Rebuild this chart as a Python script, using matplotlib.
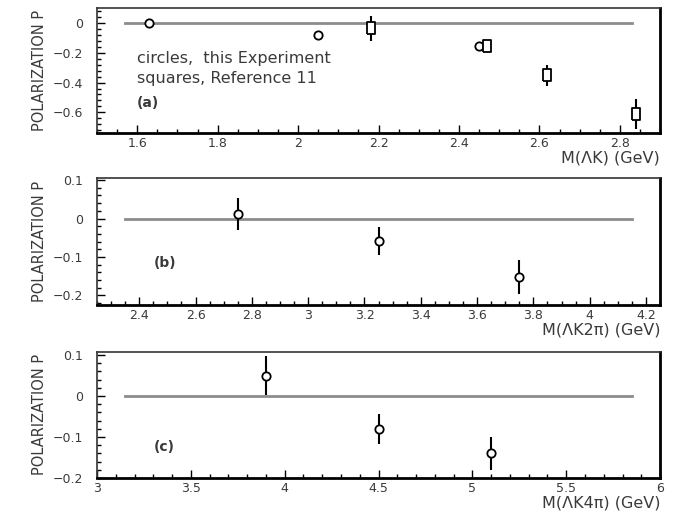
import matplotlib
matplotlib.use("Agg")
import matplotlib.pyplot as plt
from matplotlib.ticker import MultipleLocator
from matplotlib.transforms import offset_copy

plt.rcParams["font.family"] = ["DejaVu Sans"]

# ---- panel (a): M(Lambda K) ----
a_circ_x = [1.63, 2.05, 2.45]
a_circ_y = [0.0, -0.08, -0.155]
a_circ_err = [0.02, 0.01, 0.02]
a_sq_x = [2.18, 2.47, 2.62, 2.84]
a_sq_y = [-0.035, -0.155, -0.35, -0.61]
a_sq_err = [0.085, 0.02, 0.07, 0.10]
a_zero_span = [1.57, 2.83]

# ---- panel (b): M(Lambda K 2pi) ----
b_x = [2.75, 3.25, 3.75]
b_y = [0.012, -0.058, -0.152]
b_err = [0.042, 0.037, 0.043]
b_zero_span = [2.35, 4.15]

# ---- panel (c): M(Lambda K 4pi) ----
c_x = [3.9, 4.5, 5.1]
c_y = [0.05, -0.08, -0.14]
c_err = [0.048, 0.037, 0.04]
c_zero_span = [3.15, 5.85]

a_yticks = [0, -0.2, -0.4, -0.6]
a_xticks = [1.6, 1.8, 2.0, 2.2, 2.4, 2.6, 2.8]
b_yticks = [0.1, 0, -0.1, -0.2]
b_xticks = [2.4, 2.6, 2.8, 3.0, 3.2, 3.4, 3.6, 3.8, 4.0, 4.2]
c_yticks = [0.1, 0, -0.1, -0.2]
c_xticks = [3, 3.5, 4, 4.5, 5, 5.5, 6]

TXT = "#3a3a3a"

fig = plt.figure(figsize=(6.76, 5.18), dpi=100)
left, width = 0.1435, 0.833
ax_a = fig.add_axes([left, 0.743, width, 0.241])
ax_b = fig.add_axes([left, 0.411, width, 0.245])
ax_c = fig.add_axes([left, 0.077, width, 0.244])

# narrow upright box used for the reference-11 points
tall_box = [(-0.6, -1), (0.6, -1), (0.6, 1), (-0.6, 1), (-0.6, -1)]


def fmt(v):
    s = f"{v:g}"
    return s.replace("-", "\u2212")


def style(ax, xlim, ylim, xticks, yticks, xminor, yminor, xlabel):
    ax.set_xlim(*xlim)
    ax.set_ylim(*ylim)
    ax.set_xticks(xticks)
    ax.set_xticklabels([fmt(v) for v in xticks])
    ax.set_yticks(yticks)
    ax.set_yticklabels([fmt(v) for v in yticks])
    ax.xaxis.set_minor_locator(MultipleLocator(xminor))
    ax.yaxis.set_minor_locator(MultipleLocator(yminor))
    ax.tick_params(which="both", direction="in", top=False, right=False,
                   colors="black", labelcolor=TXT, labelsize=9, width=1.0)
    ax.tick_params(which="major", length=6)
    ax.tick_params(which="minor", length=3)
    ax.tick_params(axis="y", pad=10)
    ax.tick_params(axis="x", pad=3)
    for side in ("top", "left"):
        ax.spines[side].set_linewidth(1.2)
        ax.spines[side].set_color("#333333")
    for side in ("right", "bottom"):
        ax.spines[side].set_linewidth(2.0)
        ax.spines[side].set_color("black")
    ax.set_ylabel("POLARIZATION P", color=TXT, fontsize=10.5, labelpad=4)
    trans = offset_copy(ax.transAxes, fig=fig, x=0, y=-25, units="dots")
    ax.text(1.0, 0.0, xlabel, transform=trans, ha="right", va="center",
            fontsize=11.5, color=TXT)


zero_kw = dict(color="#8c8c8c", lw=2.0, zorder=1)
err_kw = dict(ecolor="black", elinewidth=1.5, capsize=0, ls="none",
              markerfacecolor="white", markeredgecolor="black",
              markeredgewidth=1.3, zorder=3)

# panel (a)
ax_a.plot(a_zero_span, [0, 0], **zero_kw)
ax_a.errorbar(a_circ_x, a_circ_y, yerr=a_circ_err, fmt="o", ms=6, **err_kw)
ax_a.errorbar(a_sq_x, a_sq_y, yerr=a_sq_err, marker=tall_box, ms=9, **err_kw)
style(ax_a, (1.5, 2.9), (-0.74, 0.1), a_xticks, a_yticks, 0.05, 0.04,
      "M(\u039bK) (GeV)")
ax_a.text(0.071, 0.60, "circles,  this Experiment", transform=ax_a.transAxes,
          fontsize=11.5, color=TXT, va="center")
ax_a.text(0.071, 0.44, "squares, Reference 11", transform=ax_a.transAxes,
          fontsize=11.5, color=TXT, va="center")
ax_a.text(0.071, 0.24, "(a)", transform=ax_a.transAxes, fontsize=10,
          fontweight="bold", color=TXT, va="center")

# panel (b)
ax_b.plot(b_zero_span, [0, 0], **zero_kw)
ax_b.errorbar(b_x, b_y, yerr=b_err, fmt="o", ms=6, **err_kw)
style(ax_b, (2.25, 4.25), (-0.225, 0.105), b_xticks, b_yticks, 0.05, 0.02,
      "M(\u039bK2\u03c0) (GeV)")
ax_b.text(0.10, 0.33, "(b)", transform=ax_b.transAxes, fontsize=10,
          fontweight="bold", color=TXT, va="center")

# panel (c)
ax_c.plot(c_zero_span, [0, 0], **zero_kw)
ax_c.errorbar(c_x, c_y, yerr=c_err, fmt="o", ms=6, **err_kw)
style(ax_c, (3, 6), (-0.2, 0.108), c_xticks, c_yticks, 0.1, 0.02,
      "M(\u039bK4\u03c0) (GeV)")
ax_c.text(0.10, 0.25, "(c)", transform=ax_c.transAxes, fontsize=10,
          fontweight="bold", color=TXT, va="center")

fig.savefig("out.png", dpi=100)
